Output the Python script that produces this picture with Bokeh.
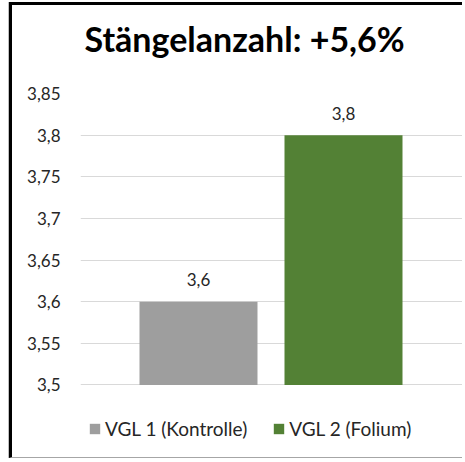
from bokeh.plotting import figure
from bokeh.models import Range1d, FixedTicker, ColumnDataSource, Title
from bokeh.core.properties import value
from bokeh.embed import file_html
from bokeh.resources import INLINE

title_text = "Stängelanzahl: +5,6%"
categories = ["VGL 1 (Kontrolle)", "VGL 2 (Folium)"]
values = [3.6, 3.8]
value_labels = ["3,6", "3,8"]
colors = ["#9e9e9e", "#538135"]
ticks = [3.5, 3.55, 3.6, 3.65, 3.7, 3.75, 3.8, 3.85]
tick_labels = ["3,5", "3,55", "3,6", "3,65", "3,7", "3,75", "3,8", "3,85"]
baseline = 3.5

FONT = "Lato"

xs = [i + 0.5 for i in range(len(categories))]
src = ColumnDataSource(dict(x=xs, top=values, cat=categories, color=colors, lab=value_labels))

p = figure(width=453, height=456, output_backend="svg", toolbar_location=None,
           title=None,
           x_range=Range1d(-0.3138, 2.3414), y_range=Range1d(3.40805, 3.85),
           x_axis_location=None, tools="",
           min_border_left=68, min_border_right=0, min_border_top=88, min_border_bottom=0,
           styles={"border-left": "3px solid black", "border-top": "3px solid black",
                   "border-bottom": "1px solid #a6a6a6",
                   "margin-left": "9px", "margin-top": "2px",
                   "box-shadow": "-1px 0 0 0 #bfbfbf"})
p.outline_line_color = None
p.background_fill_color = "white"
p.border_fill_color = "white"

# spacer between frame and title, then the title itself (stacked outward)
p.add_layout(Title(text=" ", text_font_size="1px", standoff=27), "above")
p.add_layout(Title(text=title_text, text_font=FONT, text_font_style="bold",
                   text_font_size="34px", text_color="black", align="left",
                   offset=4, standoff=10), "above")

p.xgrid.visible = False
p.ygrid.grid_line_color = "#d9d9d9"
p.ygrid.grid_line_width = 1

ax = p.yaxis[0]
ax.ticker = FixedTicker(ticks=ticks)
ax.major_label_overrides = {t: l for t, l in zip(ticks, tick_labels)}
ax.axis_line_color = None
ax.major_tick_line_color = None
ax.minor_tick_line_color = None
ax.major_tick_out = 0
ax.major_tick_in = 0
ax.major_label_standoff = 20
ax.major_label_text_font = FONT
ax.major_label_text_font_size = "17px"
ax.major_label_text_color = "#262626"

bars = p.vbar(x="x", top="top", bottom=baseline, width=0.8138, source=src,
              fill_color="color", line_color=None, legend_field="cat")

p.text(x="x", y="top", text="lab", source=src, text_align="center",
       text_baseline="alphabetic", y_offset=-22, text_font=value(FONT),
       text_font_size="17px", text_color="#262626")

leg = p.legend[0]
leg.orientation = "horizontal"
leg.location = (8, 21)
leg.padding = 0
leg.margin = 0
leg.spacing = 25
leg.label_standoff = 4
leg.glyph_width = 13
leg.glyph_height = 13
leg.label_height = 13
leg.label_text_font = FONT
leg.label_text_font_size = "19px"
leg.label_text_color = "#262626"
leg.border_line_color = None
leg.background_fill_color = None

open("out.html", "w").write(file_html(p, INLINE))
